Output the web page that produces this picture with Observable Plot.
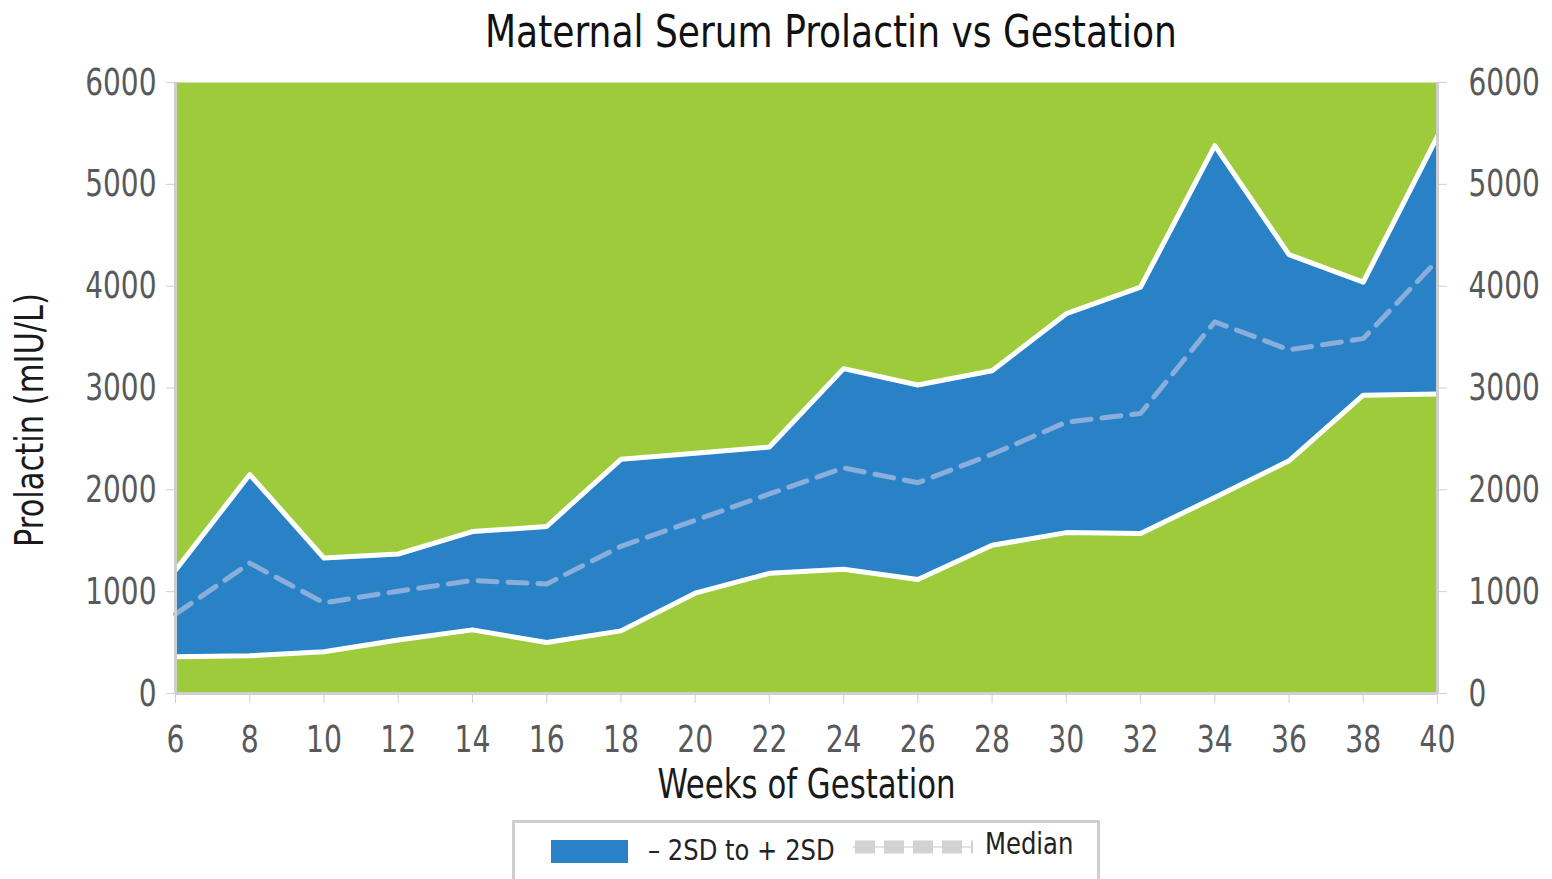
<!DOCTYPE html>
<html><head><meta charset="utf-8">
<script src="https://cdn.jsdelivr.net/npm/d3@7"></script>
<script src="https://cdn.jsdelivr.net/npm/@observablehq/plot@0.6"></script>
<style>
html,body{margin:0;padding:0;overflow:hidden;background:#fff;}
#page{position:relative;width:1552px;height:879px;overflow:hidden;font-family:"Liberation Sans Narrow","DejaVu Sans Condensed","Roboto Condensed",sans-serif;}
#title{position:absolute;top:4px;left:831px;transform:translateX(-50%) scaleX(0.91);font-size:44px;line-height:56px;color:#111;white-space:nowrap;}
#chart{position:absolute;top:62px;left:0;}
#legend{position:absolute;left:512px;top:820px;width:582px;height:80px;border:3px solid #cfcfcf;box-sizing:content-box;}
#legend .sw{position:absolute;left:36px;top:17px;width:77px;height:23px;background:#2A82C6;}
#legend .t1{position:absolute;left:133px;top:9px;font-size:29px;line-height:36px;color:#222;white-space:nowrap;transform:scaleX(0.93);transform-origin:left center;}
#legend .dsw{position:absolute;left:338px;top:16px;}
#legend .t2{position:absolute;left:470px;top:3px;font-size:30px;line-height:36px;color:#222;white-space:nowrap;transform:scaleX(0.9);transform-origin:left center;}
</style>
</head><body>
<div id="page">
  <div id="title">Maternal Serum Prolactin vs Gestation</div>
  <div id="chart"></div>
  <div id="legend">
    <div class="sw"></div>
    <div class="t1">– 2SD to + 2SD</div>
    <svg class="dsw" width="120" height="16"><line x1="0" y1="8" x2="120" y2="8" stroke="#e3e3e3" stroke-width="2"/><line x1="2" y1="8" x2="120" y2="8" stroke="#d1d2d4" stroke-width="13" stroke-dasharray="20,9"/></svg>
    <div class="t2">Median</div>
  </div>
</div>
<script>
const weeks = [6, 8, 10, 12, 14, 16, 18, 20, 22, 24, 26, 28, 30, 32, 34, 36, 38, 40];
const upper2SD = [1210, 2150, 1330, 1370, 1590, 1640, 2300, 2360, 2420, 3190, 3030, 3170, 3730, 3990, 5380, 4310, 4040, 5470];
const lower2SD = [360, 370, 410, 525, 625, 500, 615, 985, 1180, 1220, 1120, 1455, 1580, 1570, 1925, 2285, 2930, 2940];
const median = [780, 1280, 890, 1005, 1110, 1075, 1445, 1700, 1960, 2215, 2070, 2350, 2665, 2750, 3650, 3375, 3485, 4255];
const xTicks = [6, 8, 10, 12, 14, 16, 18, 20, 22, 24, 26, 28, 30, 32, 34, 36, 38, 40];
const yTicks = [0, 1000, 2000, 3000, 4000, 5000, 6000];
const xLabel = "Weeks of Gestation";
const yLabel = "Prolactin (mIU/L)";

const rows = weeks.map((w, i) => ({week: w, lo: lower2SD[i], hi: upper2SD[i], med: median[i]}));
const font = '"Liberation Sans Narrow","DejaVu Sans Condensed","Roboto Condensed",sans-serif';

const chart = Plot.plot({
  width: 1552,
  height: 748,
  marginTop: 20,
  marginBottom: 117,
  marginLeft: 175,
  marginRight: 115,
  x: {domain: [6, 40]},
  y: {domain: [0, 6000]},
  style: {fontFamily: font, background: "transparent", overflow: "visible"},
  marks: [
    Plot.frame({fill: "#9DCB3B", stroke: "none"}),
    Plot.areaY(rows, {x: "week", y1: "lo", y2: "hi", fill: "#2A82C6"}),
    Plot.line(rows, {x: "week", y: "hi", stroke: "white", strokeWidth: 5}),
    Plot.line(rows, {x: "week", y: "lo", stroke: "white", strokeWidth: 5}),
    Plot.line(rows, {x: "week", y: "med", stroke: "#89AEDC", strokeWidth: 5, strokeDasharray: "19,11"}),
    Plot.ruleX([6], {stroke: "#cfcfcf", strokeWidth: 3}),
    Plot.ruleX([40], {stroke: "#cfcfcf", strokeWidth: 3}),
    Plot.ruleY([0], {stroke: "#cfcfcf", strokeWidth: 3}),
    Plot.axisY({anchor: "left", ticks: yTicks, tickFormat: d => String(d), tickSize: 9, tickPadding: 10, fontSize: 38, stroke: "#cfcfcf", fill: "#58595B", label: null}),
    Plot.axisY({anchor: "right", ticks: yTicks, tickFormat: d => String(d), tickSize: 9, tickPadding: 22, fontSize: 38, stroke: "#cfcfcf", fill: "#58595B", label: null}),
    Plot.axisX({ticks: xTicks, tickFormat: d => String(d), tickSize: 10, tickPadding: 22, fontSize: 37, stroke: "#cfcfcf", fill: "#58595B", label: null}),
    Plot.text([xLabel], {frameAnchor: "bottom", dy: 104, lineAnchor: "bottom", fontSize: 41, fill: "#1a1a1a"}),
    Plot.text([yLabel], {frameAnchor: "left", dx: -145, dy: 32, rotate: -90, textAnchor: "middle", fontSize: 39, fill: "#1a1a1a"})
  ]
});
document.getElementById("chart").appendChild(chart);

// narrow the glyphs horizontally (about the text anchor) to mimic the condensed face of the original
chart.querySelectorAll("text").forEach(t => {
  const s = t.textContent;
  const g = t.closest("g");
  const al = g ? (g.getAttribute("aria-label") || "") : "";
  let k = 1;
  if (s === xLabel) k = 0.835;
  else if (s === yLabel) k = 0.87;
  else if (al.startsWith("y-axis")) k = 0.82;
  else if (al.startsWith("x-axis")) k = 0.85;
  if (k === 1) return;
  const x0 = (parseFloat(t.getAttribute("x")) || 0) + (parseFloat(t.getAttribute("dx")) || 0);
  const prev = t.getAttribute("transform") || "";
  t.setAttribute("transform", `${prev} translate(${x0},0) scale(${k},1) translate(${-x0},0)`.trim());
});
</script>
</body></html>
